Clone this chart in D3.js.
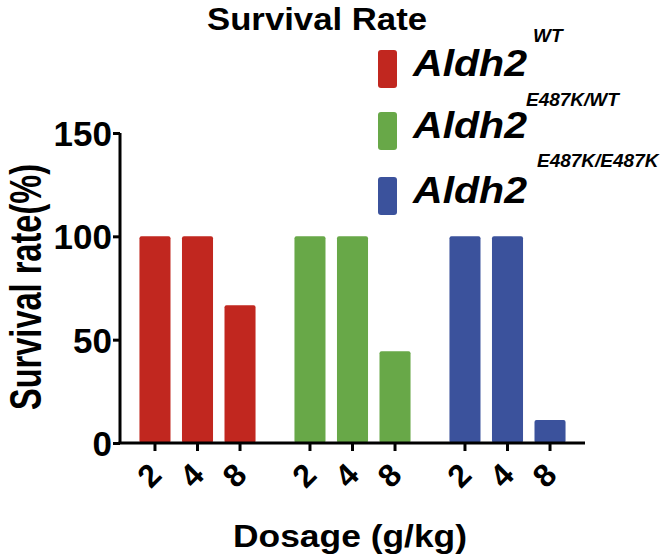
<!DOCTYPE html>
<html><head><meta charset="utf-8">
<script src="https://cdn.jsdelivr.net/npm/d3@7"></script>
<style>body{margin:0;background:#fff}svg{display:block}text{font-family:"Liberation Sans",Arial,sans-serif;font-weight:bold}</style>
</head><body><svg id="c" width="669" height="558"></svg>
<script>
const groups = ["WT", "E487K/WT", "E487K/E487K"];
const doses = ["2", "4", "8"];
const valuesWT = [100, 100, 66.7];
const valuesHet = [100, 100, 44.4];
const valuesHom = [100, 100, 11.1];
const colors = ["#C1271F", "#68A848", "#3B529C"];
const yTicks = [0, 50, 100, 150];
const seriesValues = [valuesWT, valuesHet, valuesHom];

const svg = d3.select("#c");
const x0 = d3.scaleBand().domain(groups).range([120, 585]).paddingInner(0.177).paddingOuter(0.0885);
const x1 = d3.scaleBand().domain(doses).range([0, x0.bandwidth()]).paddingInner(0.27).paddingOuter(0.135);
const y = d3.scaleLinear().domain([0, 150]).range([443, 133]);

// bars
groups.forEach((g, gi) => {
  svg.append("g").selectAll("rect").data(doses.map((d, i) => ({d, v: seriesValues[gi][i]})))
    .join("rect")
    .attr("x", d => x0(g) + x1(d.d))
    .attr("y", d => y(d.v))
    .attr("width", x1.bandwidth())
    .attr("height", d => y(0) - y(d.v))
    .attr("rx", 2)
    .attr("fill", colors[gi]);
});

// y axis
const ya = svg.append("g").attr("transform", "translate(120,0)")
  .call(d3.axisLeft(y).tickValues(yTicks).tickSize(7).tickPadding(1));
ya.select(".domain").attr("stroke", "#000").attr("stroke-width", 3).attr("d", `M0,${y(150)}V${y(0)}`);
ya.selectAll(".tick line").attr("stroke-width", 3);
ya.selectAll(".tick text").attr("font-size", 35).attr("fill", "#000").attr("font-family", "Liberation Sans, Arial").attr("font-weight", "bold").attr("dy", "0.36em");

// x axis
const xAll = [];
groups.forEach(g => doses.forEach(d => xAll.push({g, d, cx: x0(g) + x1(d) + x1.bandwidth() / 2})));
const xa = svg.append("g");
xa.append("line").attr("x1", 118.5).attr("x2", 585).attr("y1", 443).attr("y2", 443).attr("stroke", "#000").attr("stroke-width", 3);
xa.selectAll("line.tk").data(xAll).join("line").attr("class", "tk")
  .attr("x1", d => d.cx).attr("x2", d => d.cx).attr("y1", 443).attr("y2", 451)
  .attr("stroke", "#000").attr("stroke-width", 3);
xa.selectAll("text").data(xAll).join("text")
  .attr("transform", d => `translate(${d.cx - 6},475) rotate(-45)`)
  .attr("text-anchor", "middle").attr("dy", "0.36em")
  .attr("font-size", 32).text(d => d.d);

// axis titles
svg.append("text").attr("transform", "translate(41,287) rotate(-90) scale(1,1.3)").attr("text-anchor", "middle")
  .attr("font-size", 34).attr("textLength", 246).attr("lengthAdjust", "spacingAndGlyphs").text("Survival rate(%)");
svg.append("text").attr("x", 350).attr("y", 547).attr("text-anchor", "middle")
  .attr("font-size", 31).attr("textLength", 234).attr("lengthAdjust", "spacingAndGlyphs").text("Dosage (g/kg)");
svg.append("text").attr("x", 317).attr("y", 30).attr("text-anchor", "middle")
  .attr("font-size", 32).attr("textLength", 220).attr("lengthAdjust", "spacingAndGlyphs").text("Survival Rate");

// legend
const leg = svg.append("g");
const legBase = [76, 138, 203];
const supBase = [42, 106, 167];
const supX = [533, 526, 537];
groups.forEach((g, i) => {
  leg.append("rect").attr("x", 378).attr("y", legBase[i] - 26).attr("width", 19).attr("height", 38).attr("rx", 3).attr("fill", colors[i]);
  leg.append("text").attr("x", 413).attr("y", legBase[i]).attr("font-size", 37).attr("font-style", "italic")
    .attr("textLength", 114).attr("lengthAdjust", "spacingAndGlyphs").text("Aldh2");
  leg.append("text").attr("x", supX[i]).attr("y", supBase[i]).attr("font-size", 19).attr("font-style", "italic").text(g);
});
</script></body></html>
